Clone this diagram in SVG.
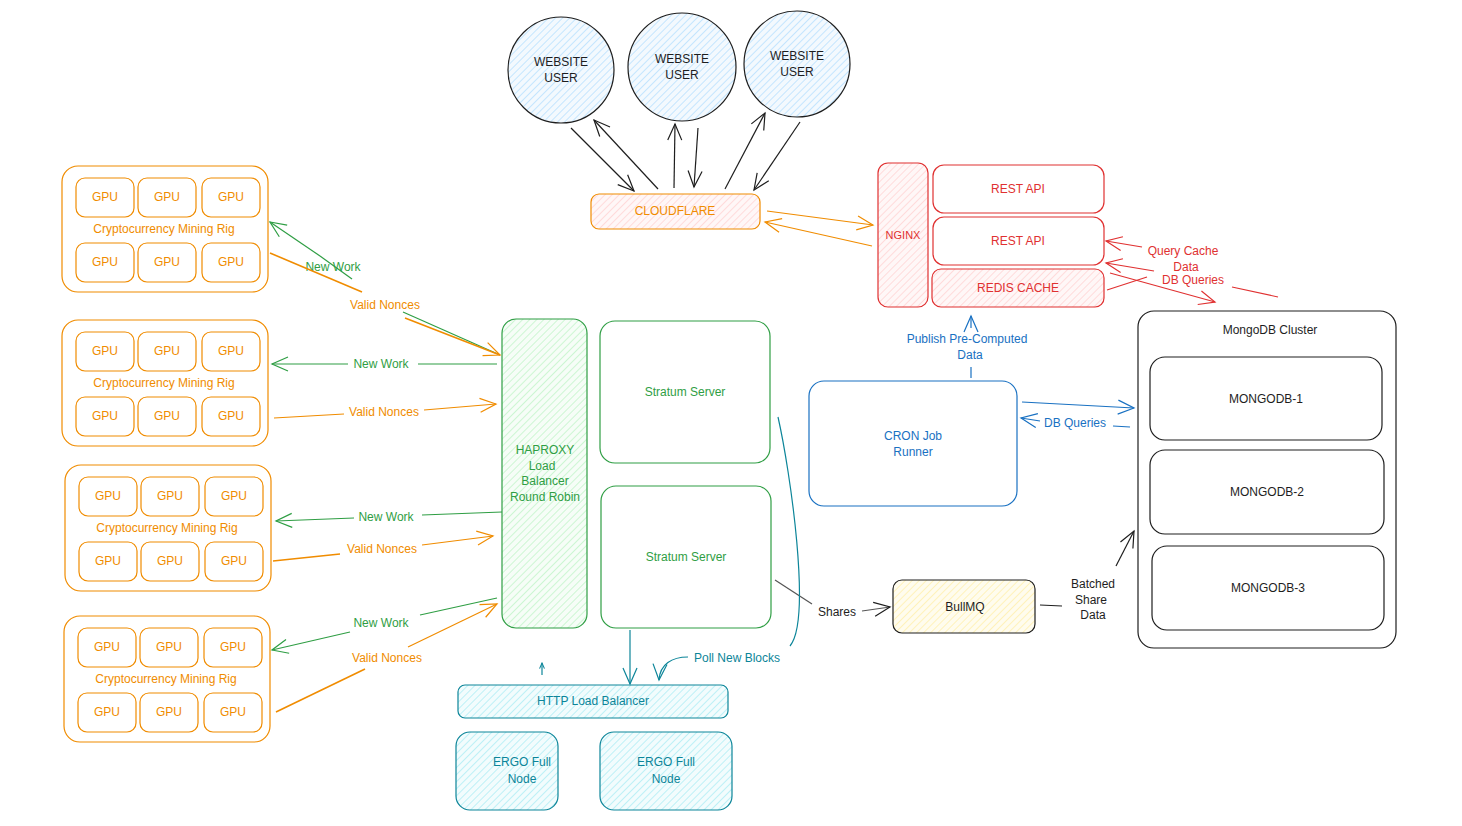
<svg xmlns="http://www.w3.org/2000/svg" width="1462" height="826" viewBox="0 0 1462 826">
<defs>
<style>
text{font-family:"Liberation Sans",Arial,sans-serif;font-size:12px;text-anchor:middle;dominant-baseline:central}
.n{fill:none;stroke-width:1.2}
.o{stroke:#f08c00}.g{stroke:#2f9e44}.r{stroke:#e03131}.b{stroke:#1971c2}.t{stroke:#0c8599}.k{stroke:#1e1e1e}
.to{fill:#f08c00}.tg{fill:#2f9e44}.tr{fill:#e03131}.tb{fill:#1971c2}.tt{fill:#0c8599}.tk{fill:#1e1e1e}
.c{fill:none;stroke-width:1.2}
</style>
<pattern id="hb" width="5" height="5" patternUnits="userSpaceOnUse" patternTransform="rotate(45)"><rect width="5" height="5" fill="#f3f9fe"/><line x1="0" y1="0" x2="0" y2="5" stroke="#a5d8ff" stroke-width="1.2"/></pattern>
<pattern id="hr" width="5" height="5" patternUnits="userSpaceOnUse" patternTransform="rotate(45)"><rect width="5" height="5" fill="#fff7f7"/><line x1="0" y1="0" x2="0" y2="5" stroke="#ffc9c9" stroke-width="1.2"/></pattern>
<pattern id="hg" width="5" height="5" patternUnits="userSpaceOnUse" patternTransform="rotate(45)"><rect width="5" height="5" fill="#f6fdf7"/><line x1="0" y1="0" x2="0" y2="5" stroke="#b2f2bb" stroke-width="1.2"/></pattern>
<pattern id="ht" width="5" height="5" patternUnits="userSpaceOnUse" patternTransform="rotate(45)"><rect width="5" height="5" fill="#f2fcfd"/><line x1="0" y1="0" x2="0" y2="5" stroke="#99e9f2" stroke-width="1.2"/></pattern>
<pattern id="hy" width="5" height="5" patternUnits="userSpaceOnUse" patternTransform="rotate(45)"><rect width="5" height="5" fill="#fffcee"/><line x1="0" y1="0" x2="0" y2="5" stroke="#ffec99" stroke-width="1.2"/></pattern>
<marker id="ak" viewBox="0 0 20 20" refX="18" refY="10" markerWidth="20" markerHeight="20" markerUnits="userSpaceOnUse" orient="auto"><path d="M2,3 L18,10 L2,17" fill="none" stroke="#1e1e1e" stroke-width="1.2"/></marker>
<marker id="ao" viewBox="0 0 20 20" refX="18" refY="10" markerWidth="20" markerHeight="20" markerUnits="userSpaceOnUse" orient="auto"><path d="M2,3 L18,10 L2,17" fill="none" stroke="#f08c00" stroke-width="1.2"/></marker>
<marker id="ag" viewBox="0 0 20 20" refX="18" refY="10" markerWidth="20" markerHeight="20" markerUnits="userSpaceOnUse" orient="auto"><path d="M2,3 L18,10 L2,17" fill="none" stroke="#2f9e44" stroke-width="1.2"/></marker>
<marker id="ar" viewBox="0 0 20 20" refX="18" refY="10" markerWidth="20" markerHeight="20" markerUnits="userSpaceOnUse" orient="auto"><path d="M2,3 L18,10 L2,17" fill="none" stroke="#e03131" stroke-width="1.2"/></marker>
<marker id="ab" viewBox="0 0 20 20" refX="18" refY="10" markerWidth="20" markerHeight="20" markerUnits="userSpaceOnUse" orient="auto"><path d="M2,3 L18,10 L2,17" fill="none" stroke="#1971c2" stroke-width="1.2"/></marker>
<marker id="at" viewBox="0 0 20 20" refX="18" refY="10" markerWidth="20" markerHeight="20" markerUnits="userSpaceOnUse" orient="auto"><path d="M2,3 L18,10 L2,17" fill="none" stroke="#0c8599" stroke-width="1.2"/></marker>
<marker id="ats" viewBox="0 0 20 20" refX="18" refY="10" markerWidth="7" markerHeight="7" markerUnits="userSpaceOnUse" orient="auto"><path d="M2,3 L18,10 L2,17" fill="none" stroke="#0c8599" stroke-width="3"/></marker>
<g id="rigbody">
<rect class="n o" x="0" y="0" width="206" height="126" rx="16"/>
<rect class="n o" x="14" y="12" width="58" height="39" rx="9"/>
<rect class="n o" x="76" y="12" width="58" height="39" rx="9"/>
<rect class="n o" x="140" y="12" width="58" height="39" rx="9"/>
<rect class="n o" x="14" y="77" width="58" height="39" rx="9"/>
<rect class="n o" x="76" y="77" width="58" height="39" rx="9"/>
<rect class="n o" x="140" y="77" width="58" height="39" rx="9"/>
<text class="to" x="43" y="31">GPU</text>
<text class="to" x="105" y="31">GPU</text>
<text class="to" x="169" y="31">GPU</text>
<text class="to" x="43" y="96">GPU</text>
<text class="to" x="105" y="96">GPU</text>
<text class="to" x="169" y="96">GPU</text>
<text class="to" x="102" y="63">Cryptocurrency Mining Rig</text>
</g>
</defs>
<rect width="1462" height="826" fill="#ffffff"/>

<g id="user1"><circle cx="561" cy="70" r="53" fill="url(#hb)" stroke="#1e1e1e" stroke-width="1.2"/><text class="tk" x="561" y="62">WEBSITE</text><text class="tk" x="561" y="78">USER</text></g>
<g id="user2"><circle cx="682" cy="67" r="54" fill="url(#hb)" stroke="#1e1e1e" stroke-width="1.2"/><text class="tk" x="682" y="59">WEBSITE</text><text class="tk" x="682" y="75">USER</text></g>
<g id="user3"><circle cx="797" cy="64" r="53" fill="url(#hb)" stroke="#1e1e1e" stroke-width="1.2"/><text class="tk" x="797" y="56">WEBSITE</text><text class="tk" x="797" y="72">USER</text></g>

<g id="cloudflare"><rect x="591" y="194" width="169" height="35" rx="8" fill="url(#hr)" stroke="#f08c00" stroke-width="1.2"/><text class="to" x="675" y="211">CLOUDFLARE</text></g>

<g id="nginx"><rect x="878" y="163" width="50" height="144" rx="10" fill="url(#hr)" stroke="#e03131" stroke-width="1.2"/><text class="tr" x="903" y="235" style="font-size:11px">NGINX</text></g>
<g id="restapi1"><rect class="n r" x="933" y="165" width="171" height="48" rx="11"/><text class="tr" x="1018" y="189">REST API</text></g>
<g id="restapi2"><rect class="n r" x="933" y="217" width="171" height="48" rx="11"/><text class="tr" x="1018" y="241">REST API</text></g>
<g id="redis"><rect x="932" y="269" width="172" height="38" rx="9" fill="url(#hr)" stroke="#e03131" stroke-width="1.2"/><text class="tr" x="1018" y="288">REDIS CACHE</text></g>

<g id="rig1" transform="translate(62,166)"><use href="#rigbody"/></g>
<g id="rig2" transform="translate(62,320)"><use href="#rigbody"/></g>
<g id="rig3" transform="translate(65,465)"><use href="#rigbody"/></g>
<g id="rig4" transform="translate(64,616)"><use href="#rigbody"/></g>

<g id="haproxy"><rect x="502" y="319" width="85" height="309" rx="14" fill="url(#hg)" stroke="#2f9e44" stroke-width="1.2"/>
<text class="tg" x="545" y="450">HAPROXY</text><text class="tg" x="542" y="466">Load</text><text class="tg" x="545" y="481">Balancer</text><text class="tg" x="545" y="497">Round Robin</text></g>
<g id="stratum1"><rect class="n g" x="600" y="321" width="170" height="142" rx="15"/><text class="tg" x="685" y="392">Stratum Server</text></g>
<g id="stratum2"><rect class="n g" x="601" y="486" width="170" height="142" rx="15"/><text class="tg" x="686" y="557">Stratum Server</text></g>

<g id="httplb"><rect x="458" y="685" width="270" height="33" rx="7" fill="url(#ht)" stroke="#0c8599" stroke-width="1.2"/><text class="tt" x="593" y="701">HTTP Load Balancer</text></g>
<g id="ergo1"><rect x="456" y="732" width="102" height="78" rx="14" fill="url(#ht)" stroke="#0c8599" stroke-width="1.2"/><text class="tt" x="522" y="762">ERGO Full</text><text class="tt" x="522" y="779">Node</text></g>
<g id="ergo2"><rect x="600" y="732" width="132" height="78" rx="14" fill="url(#ht)" stroke="#0c8599" stroke-width="1.2"/><text class="tt" x="666" y="762">ERGO Full</text><text class="tt" x="666" y="779">Node</text></g>

<g id="cron"><rect class="n b" x="809" y="381" width="208" height="125" rx="15"/><text class="tb" x="913" y="436">CRON Job</text><text class="tb" x="913" y="452">Runner</text></g>
<g id="bullmq"><rect x="893" y="580" width="142" height="53" rx="9" fill="url(#hy)" stroke="#1e1e1e" stroke-width="1.2"/><text class="tk" x="965" y="607">BullMQ</text></g>

<g id="mongocluster"><rect class="n k" x="1138" y="311" width="258" height="337" rx="16"/><text class="tk" x="1270" y="330">MongoDB Cluster</text></g>
<g id="mongo1"><rect class="n k" x="1150" y="357" width="232" height="83" rx="15"/><text class="tk" x="1266" y="399">MONGODB-1</text></g>
<g id="mongo2"><rect class="n k" x="1150" y="450" width="234" height="84" rx="15"/><text class="tk" x="1267" y="492">MONGODB-2</text></g>
<g id="mongo3"><rect class="n k" x="1152" y="546" width="232" height="84" rx="15"/><text class="tk" x="1268" y="588">MONGODB-3</text></g>

<g id="connectors">
<line class="c k" x1="571" y1="128" x2="634" y2="191" marker-end="url(#ak)"/>
<line class="c k" x1="658" y1="189" x2="594" y2="120" marker-end="url(#ak)"/>
<line class="c k" x1="674" y1="188" x2="675" y2="124" marker-end="url(#ak)"/>
<line class="c k" x1="698" y1="128" x2="694" y2="187" marker-end="url(#ak)"/>
<line class="c k" x1="725" y1="189" x2="765" y2="113" marker-end="url(#ak)"/>
<line class="c k" x1="800" y1="122" x2="754" y2="190" marker-end="url(#ak)"/>

<line class="c o" x1="767" y1="211" x2="873" y2="225" marker-end="url(#ao)"/>
<line class="c o" x1="872" y1="246" x2="765" y2="222" marker-end="url(#ao)"/>

<path class="c r" d="M1107,290 L1147,277"/>
<path class="c r" d="M1142,247 L1106,241" marker-end="url(#ar)"/>
<text class="tr" x="1183" y="251">Query Cache</text><text class="tr" x="1186" y="267">Data</text>
<path class="c r" d="M1278,297 L1232,287"/>
<path class="c r" d="M1154,271 L1106,263" marker-end="url(#ar)"/>
<text class="tr" x="1193" y="280">DB Queries</text>
<line class="c r" x1="1110" y1="273" x2="1215" y2="302" marker-end="url(#ar)"/>

<line class="c b" x1="971" y1="378" x2="971" y2="367"/>
<line class="c b" x1="971" y1="328" x2="971" y2="316" marker-end="url(#ab)"/>
<text class="tb" x="967" y="339">Publish Pre-Computed</text><text class="tb" x="970" y="355">Data</text>
<line class="c b" x1="1022" y1="402" x2="1134" y2="408" marker-end="url(#ab)"/>
<line class="c b" x1="1130" y1="427" x2="1113" y2="426"/>
<line class="c b" x1="1040" y1="421" x2="1021" y2="418" marker-end="url(#ab)"/>
<text class="tb" x="1075" y="423">DB Queries</text>

<line class="c k" x1="1040" y1="605" x2="1062" y2="606"/>
<text class="tk" x="1093" y="584">Batched</text><text class="tk" x="1091" y="600">Share</text><text class="tk" x="1093" y="615">Data</text>
<line class="c k" x1="1116" y1="566" x2="1134" y2="531" marker-end="url(#ak)"/>

<line class="c k" x1="775" y1="580" x2="812" y2="604" style="stroke:#555"/>
<text class="tk" x="837" y="612">Shares</text>
<line class="c k" x1="862" y1="611" x2="890" y2="607" marker-end="url(#ak)" style="stroke:#555"/>

<line class="c t" x1="630" y1="630" x2="630" y2="684" marker-end="url(#at)"/>
<line class="c t" x1="542" y1="675" x2="542" y2="663" marker-end="url(#ats)"/>
<path class="c t" d="M778,417 C790,470 812,620 790,646"/>
<text class="tt" x="737" y="658">Poll New Blocks</text>
<path class="c t" d="M688,657 C672,657 660,664 659,680" marker-end="url(#at)"/>

<path class="c g" d="M500,355 L403,312"/>
<path class="c g" d="M352,279 L320,256"/>
<line class="c g" x1="320" y1="256" x2="270" y2="222" marker-end="url(#ag)"/>
<text class="tg" x="333" y="267">New Work</text>
<line class="c o" x1="270" y1="253" x2="362" y2="292" style="stroke-width:1.6"/>
<line class="c o" x1="405" y1="318" x2="500" y2="355" marker-end="url(#ao)" style="stroke-width:1.6"/>
<text class="to" x="385" y="305">Valid Nonces</text>

<line class="c g" x1="497" y1="364" x2="418" y2="364"/>
<line class="c g" x1="348" y1="364" x2="272" y2="364" marker-end="url(#ag)"/>
<text class="tg" x="381" y="364">New Work</text>
<line class="c o" x1="274" y1="418" x2="344" y2="414"/>
<line class="c o" x1="424" y1="410" x2="496" y2="404" marker-end="url(#ao)"/>
<text class="to" x="384" y="412">Valid Nonces</text>

<line class="c g" x1="502" y1="512" x2="422" y2="515"/>
<line class="c g" x1="354" y1="518" x2="276" y2="521" marker-end="url(#ag)"/>
<text class="tg" x="386" y="517">New Work</text>
<line class="c o" x1="273" y1="561" x2="340" y2="554" style="stroke-width:1.6"/>
<line class="c o" x1="422" y1="545" x2="493" y2="536" marker-end="url(#ao)"/>
<text class="to" x="382" y="549">Valid Nonces</text>

<line class="c g" x1="497" y1="598" x2="420" y2="615"/>
<line class="c g" x1="350" y1="632" x2="272" y2="650" marker-end="url(#ag)"/>
<text class="tg" x="381" y="623">New Work</text>
<line class="c o" x1="276" y1="712" x2="365" y2="669" style="stroke-width:1.6"/>
<line class="c o" x1="408" y1="647" x2="497" y2="604" marker-end="url(#ao)"/>
<text class="to" x="387" y="658">Valid Nonces</text>
</g>
</svg>
